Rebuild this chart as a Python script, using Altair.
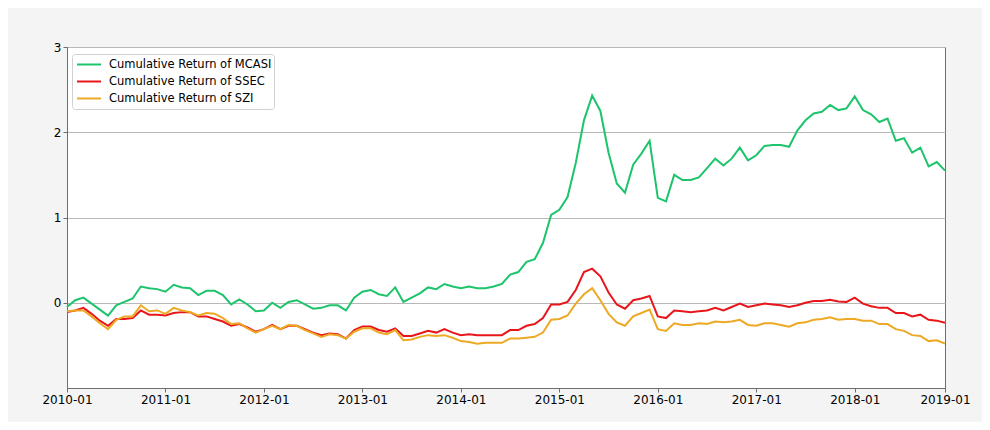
import altair as alt
import pandas as pd

months = [f"{2010 + k // 12}-{k % 12 + 1:02d}" for k in range(108)]

mcasi = [-0.05, 0.03, 0.06, -0.01, -0.08, -0.15, -0.03, 0.01, 0.05, 0.19, 0.17, 0.16,
         0.13, 0.21, 0.18, 0.17, 0.09, 0.14, 0.14, 0.09, -0.02, 0.04, -0.02, -0.10,
         -0.09, 0.0, -0.06, 0.01, 0.03, -0.02, -0.07, -0.06, -0.03, -0.03, -0.09, 0.06,
         0.13, 0.15, 0.10, 0.08, 0.18, 0.01, 0.06, 0.11, 0.18, 0.16, 0.22, 0.19,
         0.17, 0.19, 0.17, 0.17, 0.19, 0.22, 0.33, 0.36, 0.48, 0.51, 0.70, 1.03,
         1.09, 1.24, 1.64, 2.14, 2.43, 2.25, 1.76, 1.40, 1.29, 1.62, 1.75, 1.90,
         1.23, 1.19, 1.50, 1.44, 1.44, 1.47, 1.58, 1.69, 1.61, 1.69, 1.82, 1.67,
         1.73, 1.84, 1.85, 1.85, 1.83, 2.02, 2.14, 2.22, 2.24, 2.32, 2.26, 2.28,
         2.42, 2.26, 2.21, 2.12, 2.16, 1.90, 1.93, 1.76, 1.82, 1.60, 1.65, 1.55]

ssec = [-0.11, -0.09, -0.06, -0.13, -0.21, -0.27, -0.19, -0.19, -0.18, -0.09, -0.14, -0.14,
        -0.15, -0.12, -0.11, -0.11, -0.16, -0.16, -0.19, -0.22, -0.27, -0.25, -0.29, -0.34,
        -0.31, -0.26, -0.31, -0.27, -0.27, -0.31, -0.35, -0.38, -0.36, -0.37, -0.42, -0.32,
        -0.28, -0.28, -0.32, -0.34, -0.30, -0.39, -0.39, -0.36, -0.33, -0.35, -0.31, -0.35,
        -0.38, -0.37, -0.38, -0.38, -0.38, -0.38, -0.32, -0.32, -0.27, -0.25, -0.18, -0.02,
        -0.02, 0.01, 0.15, 0.36, 0.40, 0.31, 0.12, -0.02, -0.07, 0.03, 0.05, 0.08,
        -0.16, -0.18, -0.09, -0.10, -0.11, -0.10, -0.09, -0.06, -0.09, -0.05, -0.01, -0.05,
        -0.03, -0.01, -0.02, -0.03, -0.05, -0.03, 0.0, 0.02, 0.02, 0.035, 0.015, 0.01,
        0.06, -0.01, -0.04, -0.06, -0.06, -0.12, -0.12, -0.16, -0.14, -0.20, -0.21, -0.235]

szi = [-0.10, -0.09, -0.09, -0.16, -0.24, -0.31, -0.20, -0.16, -0.16, -0.03, -0.10, -0.09,
       -0.13, -0.06, -0.09, -0.11, -0.15, -0.12, -0.13, -0.18, -0.25, -0.24, -0.30, -0.35,
       -0.31, -0.27, -0.31, -0.26, -0.27, -0.32, -0.36, -0.40, -0.37, -0.38, -0.42, -0.34,
       -0.30, -0.30, -0.35, -0.37, -0.32, -0.44, -0.43, -0.40, -0.38, -0.39, -0.38, -0.41,
       -0.45, -0.46, -0.48, -0.47, -0.47, -0.47, -0.42, -0.42, -0.41, -0.40, -0.35, -0.20,
       -0.19, -0.15, -0.01, 0.10, 0.17, 0.03, -0.13, -0.23, -0.27, -0.16, -0.12, -0.08,
       -0.31, -0.33, -0.24, -0.26, -0.26, -0.24, -0.25, -0.22, -0.23, -0.22, -0.20, -0.26,
       -0.27, -0.24, -0.24, -0.26, -0.28, -0.24, -0.23, -0.20, -0.19, -0.17, -0.20, -0.19,
       -0.19, -0.21, -0.21, -0.25, -0.25, -0.31, -0.33, -0.38, -0.39, -0.45, -0.44, -0.48]

series_names = ["Cumulative Return of MCASI", "Cumulative Return of SSEC", "Cumulative Return of SZI"]
series_colors = ["#1dc46c", "#e8161b", "#eea924"]

tick_positions = [0, 12, 24, 36, 48, 60, 72, 84, 96, 107]
tick_labels = ["2010-01", "2011-01", "2012-01", "2013-01", "2014-01",
               "2015-01", "2016-01", "2017-01", "2018-01", "2019-01"]

rows = []
for name, vals in zip(series_names, [mcasi, ssec, szi]):
    for i, (m, v) in enumerate(zip(months, vals)):
        rows.append({"i": i, "month": m, "value": v, "series": name})
df = pd.DataFrame(rows)

pos_js = "[" + ",".join(str(p) for p in tick_positions) + "]"
lab_js = "[" + ",".join(f"'{t}'" for t in tick_labels) + "]"
label_expr = f"{lab_js}[indexof({pos_js}, datum.value)]"

font = "DejaVu Sans"

chart = alt.Chart(df).mark_line(strokeWidth=2).encode(
    x=alt.X("i:Q", scale=alt.Scale(domain=[0, 107], nice=False, zero=False),
            axis=alt.Axis(values=tick_positions, labelExpr=label_expr, title=None,
                          grid=False, labelFlush=False, labelOverlap=False)),
    y=alt.Y("value:Q", scale=alt.Scale(domain=[-1, 3], nice=False),
            axis=alt.Axis(values=[0, 1, 2, 3], title=None, grid=True, format="d")),
    color=alt.Color("series:N", scale=alt.Scale(domain=series_names, range=series_colors),
                    legend=alt.Legend(title=None, orient="none", legendX=5, legendY=7,
                                      symbolType="stroke", symbolSize=576, symbolStrokeWidth=2,
                                      symbolOffset=2,
                                      labelFont=font, labelFontSize=11.5, labelColor="#000",
                                      labelLimit=0, clipHeight=17,
                                      fillColor="white", strokeColor="#d0d0d0", cornerRadius=3,
                                      padding=2, rowPadding=0, labelOffset=7)),
    order=alt.Order("i:Q"),
).properties(
    width=878, height=341,
    padding={"left": 59, "top": 39, "right": 37, "bottom": 34},
    autosize=alt.AutoSizeParams(type="none"),
).configure(background="#f4f4f4").configure_view(
    fill="white", stroke="#6e6e6e", strokeWidth=1
).configure_axis(
    labelFont=font, labelFontSize=12, labelColor="#000",
    domainColor="#6e6e6e", tickColor="#6e6e6e", tickSize=4,
    gridColor="#b8b8b8", gridWidth=1, labelPadding=2,
)

chart.save("out.html", embed_options={"renderer": "svg", "actions": False})
